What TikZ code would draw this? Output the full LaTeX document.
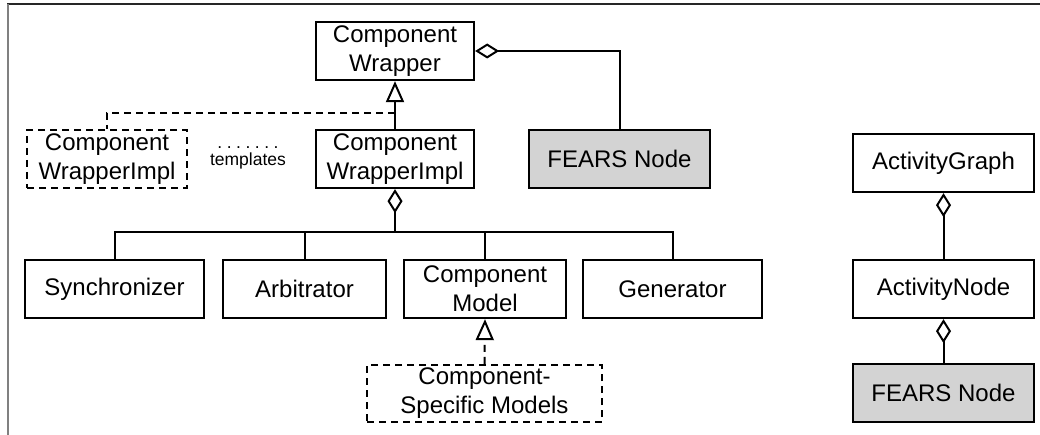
\documentclass[tikz,border=0pt]{standalone}
\usepackage{fontspec}
\setmainfont{Liberation Sans}
\usetikzlibrary{arrows.meta}
\definecolor{fearsgray}{HTML}{D3D3D3}
\newcommand{\dotgap}{\hspace{4.5pt}}
\tikzset{
  cls/.style={draw, line width=2.3pt, inner sep=0pt, minimum height=58pt,
    align=center, font=\fontsize{24}{29}\selectfont},
  tmpl/.style={cls, dash pattern=on 7pt off 5pt},
  fears/.style={cls, fill=fearsgray},
  link/.style={line width=2pt},
  aggtip/.tip={Diamond[open, length=24pt, width=15pt, line width=2pt]},
  inhtip/.tip={Triangle[open, length=21pt, width=18pt, line width=2pt]},
  agg/.style={link, aggtip-},
  inh/.style={link, -inhtip},
  dep/.style={link, dash pattern=on 7pt off 5pt}
}
\begin{document}
\begin{tikzpicture}[x=1pt, y=-1pt]
  \useasboundingbox (0,0) rectangle (1040,435);
  % frame edges
  \draw[line width=1.6pt, black!85] (7,4) -- (1040,4);
  \draw[line width=2pt, black!50] (8,4) -- (8,435);

  % component wrapper hierarchy
  \node[cls, minimum width=158pt] (cw) at (395,51) {Component\\Wrapper};
  \node[cls, minimum width=158pt] (cwi) at (395,159) {Component\\WrapperImpl};
  \node[tmpl, minimum width=160pt] (cwt) at (107,159) {Component\\WrapperImpl};
  \node[fears, minimum width=181pt] (fn1) at (619.5,159) {FEARS Node};
  \node[align=center, font=\fontsize{17.5}{17}\selectfont] (tpl) at (248,158)
    {.\dotgap.\dotgap.\dotgap.\dotgap.\dotgap.\dotgap.\\templates};

  \node[cls, minimum width=179pt] (sync) at (114.5,289) {Synchronizer};
  \node[cls, minimum width=163pt] (arb) at (304.5,289) {Arbitrator};
  \node[cls, minimum width=162pt] (cm) at (485,289) {Component\\Model};
  \node[cls, minimum width=179pt] (gen) at (672.5,289) {Generator};
  \node[tmpl, minimum width=235pt, minimum height=57pt] (csm) at (484.5,393.5)
    {Component-\\Specific Models};

  % activity graph
  \node[cls, minimum width=181pt] (ag) at (943.5,163) {ActivityGraph};
  \node[cls, minimum width=181pt] (an) at (943.5,289) {ActivityNode};
  \node[fears, minimum width=181pt] (fn2) at (943.5,393) {FEARS Node};

  % connectors
  \draw[agg] (cw.east) -| (fn1.north);
  \draw[inh] (cwi.north) -- (cw.south);
  \coordinate (tj) at (395,113);
  \draw[dep] (tj) -| (cwt.north);

  \coordinate (bus) at (395,232);
  \draw[agg, line width=2.8pt] (cwi.south) -- (bus);
  \draw[link] (sync.north) |- (bus) -| (gen.north);
  \draw[link] (arb.north) -- (arb.north |- bus);
  \draw[link] (cm.north) -- (cm.north |- bus);
  \draw[dep, -inhtip] (csm.north) -- (cm.south);

  \draw[agg] (ag.south) -- (an.north);
  \draw[agg] (an.south) -- (fn2.north);
\end{tikzpicture}
\end{document}
